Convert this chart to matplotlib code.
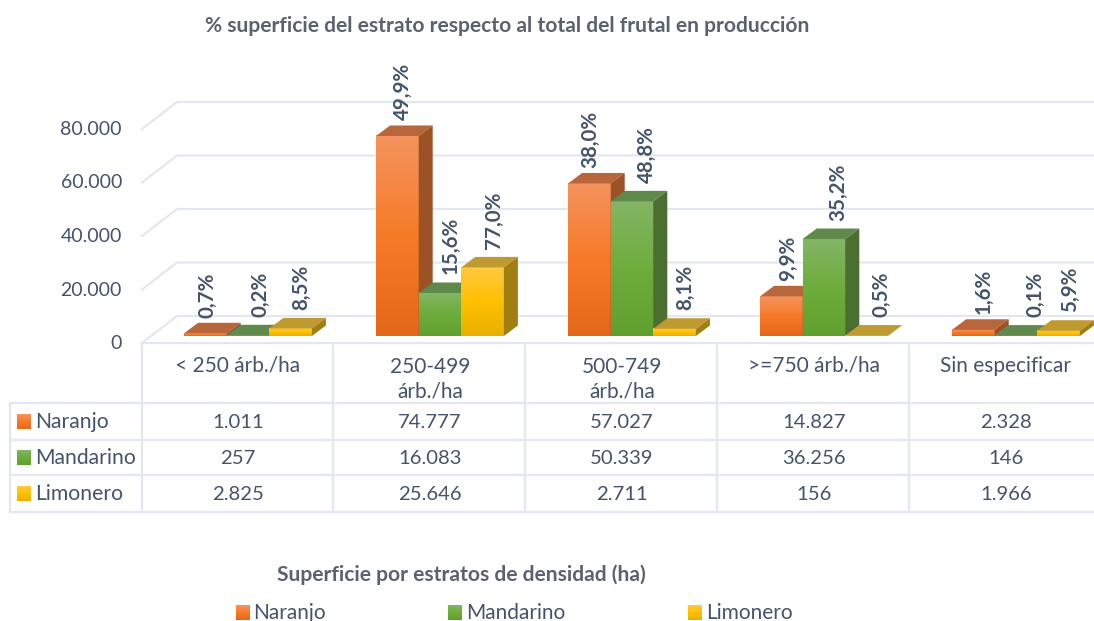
import numpy as np
import matplotlib
matplotlib.use('Agg')
import matplotlib.pyplot as plt
from matplotlib.colors import LinearSegmentedColormap
from matplotlib.patches import Polygon

plt.rcParams['font.family'] = ['Lato', 'DejaVu Sans']

categories = ['< 250 árb./ha', '250-499\nárb./ha', '500-749\nárb./ha', '>=750 árb./ha', 'Sin especificar']
series_names = ['Naranjo', 'Mandarino', 'Limonero']
naranjo = [1011, 74777, 57027, 14827, 2328]
mandarino = [257, 16083, 50339, 36256, 146]
limonero = [2825, 25646, 2711, 156, 1966]
naranjo_pct = ['0,7%', '49,9%', '38,0%', '9,9%', '1,6%']
mandarino_pct = ['0,2%', '15,6%', '48,8%', '35,2%', '0,1%']
limonero_pct = ['8,5%', '77,0%', '8,1%', '0,5%', '5,9%']
y_ticks = [0, 20000, 40000, 60000, 80000]

values = [naranjo, mandarino, limonero]
percents = [naranjo_pct, mandarino_pct, limonero_pct]

# colours: gradient top / middle / bottom, then top face and side face
front = [['#F4935E', '#F67A27', '#E4681A'],
         ['#84B564', '#6DAD3C', '#5FA02F'],
         ['#FFC93F', '#FFC000', '#E9B000']]
top_col = ['#B8663B', '#5F8A4B', '#BF9A31']
side_col = ['#9C5225', '#4A6F30', '#A07F10']
text_col = '#44546A'
title_col = '#5A6270'
line_col = '#E3E7EF'

W, H = 1094, 621
PX_X = 192.0              # px per category
PX_Y = 2.675 / 1000       # px per hectare
BAR_W = 42.6 / PX_X
DEPTH_X = 14 / PX_X
DEPTH_Y = 10.5 / PX_Y
FLOOR_X = 35 / PX_X
BACK_Y = 20 / PX_Y
FRONT_Y = -7 / PX_Y

fig = plt.figure(figsize=(W / 100, H / 100), dpi=100)
ax = fig.add_axes([0, 0, 1, 1])
tb = fig.add_axes([0, 0, 1, 1])
tb.patch.set_alpha(0)
ax.axis('off')
tb.axis('off')


def gradient(axis, x0, x1, y0, y1, colors, z):
    cmap = LinearSegmentedColormap.from_list('g', colors)
    axis.imshow(np.linspace(0, 1, 64).reshape(-1, 1), cmap=cmap, aspect='auto',
                extent=(x0, x1, y0, y1), zorder=z, interpolation='bilinear')


# gridlines, drawn on the back wall with a diagonal on the side wall
x_left = (142 - 238) / PX_X
x_right = (W - 238) / PX_X
for t in y_ticks:
    ax.plot([x_left, x_left + FLOOR_X, x_right],
            [t + FRONT_Y, t + BACK_Y, t + BACK_Y], color=line_col, lw=1.6, zorder=1)
    ax.text((122 - 238) / PX_X, t + FRONT_Y - 0.5 / PX_Y, f'{t:,}'.replace(',', '.'), ha='right', va='center',
            fontsize=14, color=text_col)

# 3d looking bars
label_dx = [[2, 6, 1, 7, 10], [12, 11, 15, 14, 19], [11, 11, 11, 15, 11]]
label_gap = [5, 8, 8]
z = 3
for g in range(len(categories)):
    for s in range(3):
        v = values[s][g]
        x0 = g + (10 - 63.9 + 42.6 * s) / PX_X
        x1 = x0 + BAR_W
        ax.bar(x0, v, width=BAR_W, align='edge', color=front[s][1], zorder=z)
        gradient(ax, x0, x1, 0, v, front[s], z + 0.1)
        ax.add_patch(Polygon([(x0, v), (x1, v), (x1 + DEPTH_X, v + DEPTH_Y), (x0 + DEPTH_X, v + DEPTH_Y)],
                             color=top_col[s], lw=0, zorder=z + 0.2))
        ax.add_patch(Polygon([(x1, 0), (x1, v), (x1 + DEPTH_X, v + DEPTH_Y), (x1 + DEPTH_X, DEPTH_Y)],
                             color=side_col[s], lw=0, zorder=z + 0.2))
        ax.text((x0 + x1) / 2 + label_dx[s][g] / PX_X, v + DEPTH_Y + label_gap[s] / PX_Y, percents[s][g],
                rotation=90, ha='center', va='bottom', fontsize=14.8, fontweight='bold', color=text_col, zorder=50)
        z += 1

ax.set_xlim(-238 / PX_X, (W - 238) / PX_X)
ax.set_ylim(-(H - 336) / PX_Y, 336 / PX_Y)

# data table under the chart, in pixel coordinates
for y, x0 in [(343, 142), (403, 10), (440, 10), (475, 10), (512, 10)]:
    tb.plot([x0, W], [y, y], color=line_col, lw=1.6)
tb.plot([10, 10], [403, 512], color=line_col, lw=1.6)
for x in [142, 333, 525, 717, 909]:
    tb.plot([x, x], [343, 512], color=line_col, lw=1.6)

for g, name in enumerate(categories):
    tb.text(238 + 192 * g, 379 if '\n' in name else 366, name, ha='center', va='center',
            fontsize=15, color=text_col, linespacing=1.3)

for s, name in enumerate(series_names):
    row = [421, 457, 493][s]
    gradient(tb, 17, 31, row + 8, row - 7, front[s], 3)
    tb.text(35, row + 1, name, ha='left', va='center', fontsize=15.2, color=text_col)
    for g in range(len(categories)):
        tb.text(238 + 192 * g, row + 2, f'{values[s][g]:,}'.replace(',', '.'), ha='center', va='center',
                fontsize=14.6, color=text_col)

tb.text(507, 26, '% superficie del estrato respecto al total del frutal en producción', ha='center', va='center',
        fontsize=15.1, fontweight='bold', color=title_col)
tb.text(461, 575, 'Superficie por estratos de densidad (ha)', ha='center', va='center',
        fontsize=15.1, fontweight='bold', color=title_col)

for s, (kx, tx) in enumerate([(236, 253), (448, 466), (688, 706)]):
    gradient(tb, kx, kx + 14, 620, 605, front[s], 3)
    tb.text(tx, 613, series_names[s], ha='left', va='center', fontsize=15, color=text_col)

tb.set_xlim(0, W)
tb.set_ylim(H, 0)

fig.savefig('out.png', dpi=100)
